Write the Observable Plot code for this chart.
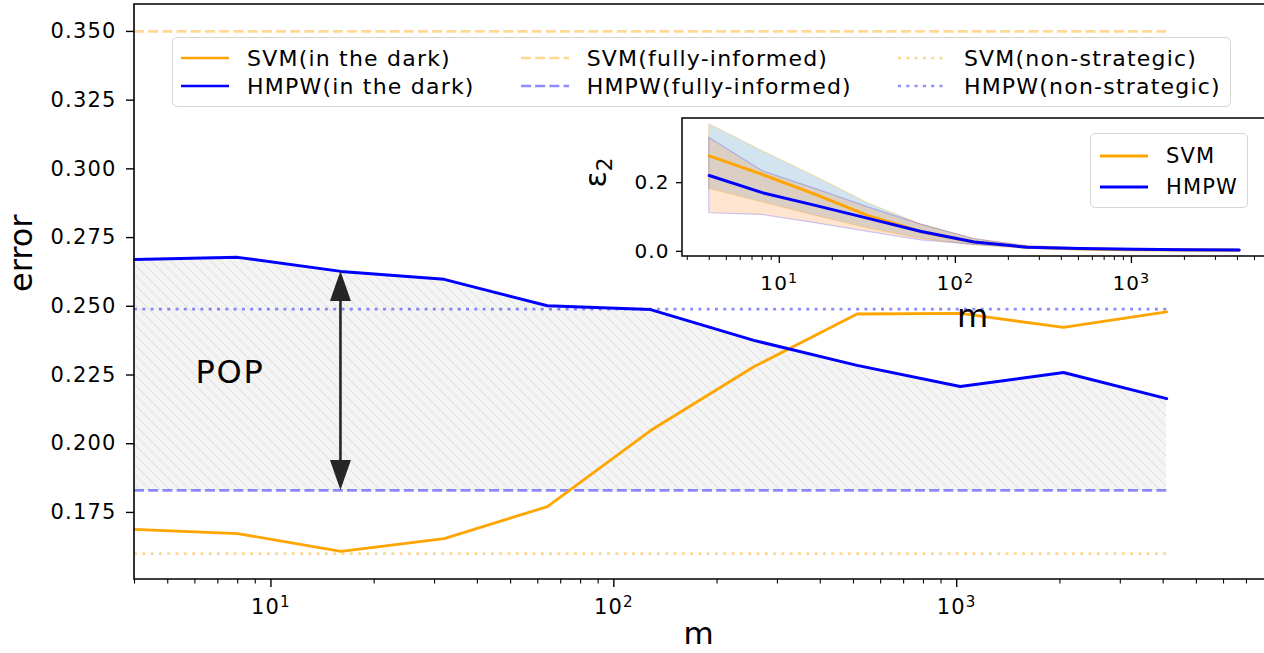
<!DOCTYPE html>
<html>
<head>
<meta charset="utf-8">
<script src="https://cdn.jsdelivr.net/npm/d3@7"></script>
<script src="https://cdn.jsdelivr.net/npm/@observablehq/plot@0.6"></script>
<style>
  html, body { margin: 0; padding: 0; background: #fff; }
  #wrap { position: relative; width: 1264px; height: 653px; overflow: hidden; font-family: "DejaVu Sans", sans-serif; }
  #main, #inset { position: absolute; }
  #main { left: 0; top: 0; }
  #inset { left: 560px; top: 100px; }
  #main svg text, #inset svg text { letter-spacing: 0.055em; }
  .legend { position: absolute; background: rgba(255,255,255,0.85); border: 1.5px solid #d6d6d6; border-radius: 5px;
            font-family: "DejaVu Sans", sans-serif; color: #000; letter-spacing: 0.055em; box-sizing: border-box; }
  .legend .grid { display: grid; }
  .legend .item { display: flex; align-items: center; white-space: nowrap; }
  .legend svg { display: block; flex: none; }
</style>
</head>
<body>
<div id="wrap">
  <div id="main"></div>
  <div id="inset"></div>
  <div id="leg1" class="legend"></div>
  <div id="leg2" class="legend"></div>
</div>
<script>
// ---------------- data ----------------
const m = [4, 8, 16, 32, 64, 128, 256, 512, 1024, 2048, 4096];
const svmDark  = [0.1688, 0.1673, 0.1608, 0.1655, 0.1771, 0.2048, 0.2280, 0.2472, 0.2474, 0.2423, 0.2480];
const hmpwDark = [0.2670, 0.2678, 0.2627, 0.2598, 0.2502, 0.2488, 0.2376, 0.2285, 0.2208, 0.2259, 0.2164];
const svmFullyInformed  = 0.350;
const hmpwFullyInformed = 0.183;
const svmNonStrategic   = 0.160;
const hmpwNonStrategic  = 0.249;
const popM = 16;
const popLabel = { m: 7.6, error: 0.226, text: "POP" };

// inset: epsilon_2 vs m (mean and band)
const svmEps    = [0.278, 0.224, 0.166, 0.104, 0.057, 0.027, 0.012, 0.007, 0.005, 0.004, 0.003];
const svmEpsLo  = [0.182, 0.143, 0.104, 0.067, 0.036, 0.018, 0.007, 0.005, 0.004, 0.003, 0.002];
const svmEpsHi  = [0.370, 0.292, 0.218, 0.140, 0.078, 0.036, 0.015, 0.009, 0.006, 0.005, 0.004];
const hmpwEps   = [0.221, 0.171, 0.134, 0.096, 0.058, 0.027, 0.012, 0.008, 0.006, 0.005, 0.004];
const hmpwEpsLo = [0.111, 0.106, 0.082, 0.057, 0.032, 0.019, 0.009, 0.006, 0.004, 0.003, 0.002];
const hmpwEpsHi = [0.331, 0.234, 0.182, 0.128, 0.078, 0.036, 0.015, 0.009, 0.007, 0.006, 0.005];

// ticks
const mainYTicks  = [0.175, 0.200, 0.225, 0.250, 0.275, 0.300, 0.325, 0.350];
const xMajorTicks = [10, 100, 1000];
const insetYTicks = [0.0, 0.2];

// colours
const ORANGE = "#ffa500", BLUE = "#0000ff";

// ---------------- helpers ----------------
const fmtPow = d => "10^" + Math.round(Math.log10(d));
const minorTicks = (lo, hi) => d3.range(0, 5).flatMap(k => d3.range(2, 10).map(d => d * 10 ** k))
  .filter(v => v >= lo && v <= hi);

const mainRows = m.map((v, i) => ({ m: v, svm: svmDark[i], hmpw: hmpwDark[i] }));
const insetRows = m.map((v, i) => ({
  m: v, svm: svmEps[i], svmLo: svmEpsLo[i], svmHi: svmEpsHi[i],
  hmpw: hmpwEps[i], hmpwLo: hmpwEpsLo[i], hmpwHi: hmpwEpsHi[i]
}));

function hatchDefs() {
  const s = 10;
  const defs = d3.create("svg:defs");
  const p = defs.append("pattern").attr("id", "hatch").attr("patternUnits", "userSpaceOnUse")
    .attr("width", s).attr("height", s);
  p.append("rect").attr("width", s).attr("height", s).attr("fill", "#f4f4f4");
  p.append("path").attr("d", `M-1,-1L${s + 1},${s + 1}M-1,${s - 1}L1,${s + 1}M${s - 1},-1L${s + 1},1`)
    .attr("stroke", "#dddddd").attr("stroke-width", 1);
  return defs.node();
}

function spines(sw) {
  return (index, scales, values, dim) => {
    const l = dim.marginLeft, t = dim.marginTop, r = dim.width - dim.marginRight, b = dim.height - dim.marginBottom;
    const g = d3.create("svg:g").attr("fill", "none").attr("stroke", "#000").attr("stroke-width", sw);
    g.append("path").attr("d", `M${r + 2},${t}H${l}V${b}H${r + 2}`);
    return g.node();
  };
}

function popArrow(index, scales) {
  const i = m.indexOf(popM);
  const x = scales.x(popM), yA = scales.y(hmpwDark[i]), yB = scales.y(hmpwFullyInformed);
  const hw = 10.5, hl = 30;
  const g = d3.create("svg:g");
  g.append("line").attr("x1", x).attr("x2", x).attr("y1", yA + hl - 2).attr("y2", yB - hl + 2)
    .attr("stroke", "#262626").attr("stroke-width", 2.6);
  g.append("path").attr("fill", "#262626").attr("d", `M${x},${yA}L${x - hw},${yA + hl}L${x + hw},${yA + hl}Z`);
  g.append("path").attr("fill", "#262626").attr("d", `M${x},${yB}L${x - hw},${yB - hl}L${x + hw},${yB - hl}Z`);
  return g.node();
}

const LW = 2.7, DASH = "10,4.2", DOT = "3,5.3";
const mFirst = m[0], mLast = m[m.length - 1];

// ---------------- main chart ----------------
const mainPlot = Plot.plot({
  width: 1264, height: 653,
  marginLeft: 134, marginRight: 0, marginTop: 4, marginBottom: 74,
  style: { fontFamily: "DejaVu Sans, sans-serif", fontSize: "21px", color: "#000", background: "transparent", overflow: "visible" },
  x: { type: "log", domain: [4, 7900], axis: null },
  y: { domain: [0.1506, 0.3598], axis: null },
  marks: [
    hatchDefs,
    Plot.areaY(mainRows, { x: "m", y1: hmpwFullyInformed, y2: "hmpw", fill: "url(#hatch)" }),
    Plot.ruleY([svmFullyInformed], { x1: mFirst, x2: mLast, stroke: ORANGE, strokeOpacity: 0.42, strokeWidth: LW, strokeDasharray: DASH }),
    Plot.ruleY([hmpwFullyInformed], { x1: mFirst, x2: mLast, stroke: BLUE, strokeOpacity: 0.45, strokeWidth: LW, strokeDasharray: DASH }),
    Plot.ruleY([svmNonStrategic], { x1: mFirst, x2: mLast, stroke: ORANGE, strokeOpacity: 0.42, strokeWidth: LW, strokeDasharray: DOT }),
    Plot.ruleY([hmpwNonStrategic], { x1: mFirst, x2: mLast, stroke: BLUE, strokeOpacity: 0.45, strokeWidth: LW, strokeDasharray: DOT }),
    Plot.line(mainRows, { x: "m", y: "svm", stroke: ORANGE, strokeWidth: 2.8 }),
    Plot.line(mainRows, { x: "m", y: "hmpw", stroke: BLUE, strokeWidth: 3 }),
    popArrow,
    Plot.text([popLabel], { x: "m", y: "error", text: "text", fontSize: 32, fill: "#000", lineAnchor: "middle" }),
    Plot.axisY({ ticks: mainYTicks, tickFormat: d3.format(".3f"), tickSize: 8, tickPadding: 10, strokeWidth: 1.4, label: null }),
    Plot.axisX({ ticks: xMajorTicks, tickFormat: fmtPow, tickSize: 8, tickPadding: 12, strokeWidth: 1.4, label: null }),
    Plot.axisX({ ticks: minorTicks(4, 7900).filter(v => !xMajorTicks.includes(v)), tickFormat: () => "", tickSize: 4.5, strokeWidth: 1.1, label: null }),
    spines(1.6),
    Plot.text(["error"], { frameAnchor: "left", dx: -112.5, rotate: -90, fontSize: 32, fill: "#000", lineAnchor: "middle" }),
    Plot.text(["m"], { frameAnchor: "bottom", dy: 55, fontSize: 31, fill: "#000", lineAnchor: "middle" })
  ]
});
document.getElementById("main").append(mainPlot);

// ---------------- inset ----------------
const insetPlot = Plot.plot({
  width: 704, height: 240,
  marginLeft: 122, marginRight: 0, marginTop: 18, marginBottom: 84,
  style: { fontFamily: "DejaVu Sans, sans-serif", fontSize: "20px", color: "#000", background: "transparent", overflow: "visible" },
  x: { type: "log", domain: [2.82, 5700], axis: null },
  y: { domain: [-0.015, 0.387], axis: null },
  marks: [
    Plot.frame({ fill: "white", stroke: null }),
    Plot.areaY(insetRows, { x: "m", y1: "svmLo", y2: "svmHi", fill: "#1f77b4", fillOpacity: 0.2, stroke: ORANGE, strokeOpacity: 0.25, strokeWidth: 1.2 }),
    Plot.areaY(insetRows, { x: "m", y1: "hmpwLo", y2: "hmpwHi", fill: "#ff7f0e", fillOpacity: 0.2, stroke: BLUE, strokeOpacity: 0.2, strokeWidth: 1.2 }),
    Plot.line(insetRows, { x: "m", y: "svm", stroke: ORANGE, strokeWidth: 3 }),
    Plot.line(insetRows, { x: "m", y: "hmpw", stroke: BLUE, strokeWidth: 3 }),
    Plot.axisY({ ticks: insetYTicks, tickFormat: d3.format(".1f"), tickSize: 6, tickPadding: 7, strokeWidth: 1.3, label: null }),
    Plot.axisX({ ticks: xMajorTicks, tickFormat: fmtPow, tickSize: 7, tickPadding: 12, strokeWidth: 1.3, label: null }),
    Plot.axisX({ ticks: minorTicks(2.82, 5700).filter(v => !xMajorTicks.includes(v)), tickFormat: () => "", tickSize: 4, strokeWidth: 1, label: null }),
    spines(1.5),
    Plot.text(["ε_2"], { frameAnchor: "left", dx: -86, rotate: -90, fontSize: 30, fill: "#000", lineAnchor: "middle" }),
    Plot.text(["m"], { frameAnchor: "bottom", dy: 60, fontSize: 32, fill: "#000", lineAnchor: "middle" })
  ]
});
document.getElementById("inset").append(insetPlot);

// typography fix-ups: mathtext-like superscripts / subscripts, no letter-spacing on rotated labels
for (const svg of [mainPlot, insetPlot]) {
  d3.select(svg).selectAll("text").each(function () {
    const t = d3.select(this);
    if ((this.getAttribute("transform") || "").includes("rotate")) t.style("letter-spacing", "0");
    const s = this.textContent;
    const sp = s.match(/^(.*)\^(.+)$/), sb = s.match(/^(.*)_(.+)$/);
    if (sp || sb) {
      const [, base, script] = sp || sb;
      t.text(null);
      t.append("tspan").text(base);
      t.append("tspan").attr("dy", sp ? "-0.48em" : "0.28em").attr("font-size", "0.72em").text(script);
    }
  });
}

// ---------------- legends ----------------
function handle(color, opacity, dash, w) {
  return `<svg width="48" height="12"><line x1="0" x2="48" y1="6" y2="6" stroke="${color}" stroke-opacity="${opacity}" stroke-width="${w}" ${dash ? `stroke-dasharray="${dash}"` : ""}/></svg>`;
}
const mainLegend = [
  { label: "SVM(in the dark)",      color: ORANGE, op: 1,    dash: null },
  { label: "SVM(fully-informed)",   color: ORANGE, op: 0.42, dash: DASH },
  { label: "SVM(non-strategic)",    color: ORANGE, op: 0.42, dash: DOT },
  { label: "HMPW(in the dark)",     color: BLUE,   op: 1,    dash: null },
  { label: "HMPW(fully-informed)",  color: BLUE,   op: 0.45, dash: DASH },
  { label: "HMPW(non-strategic)",   color: BLUE,   op: 0.45, dash: DOT }
];
const leg1 = document.getElementById("leg1");
Object.assign(leg1.style, { left: "172px", top: "37px", padding: "6px 9px 6px 8px", fontSize: "22px" });
leg1.innerHTML = `<div class="grid" style="grid-template-columns:repeat(3,auto);column-gap:46px;grid-auto-rows:28px">` +
  mainLegend.map(d => `<div class="item">${handle(d.color, d.op, d.dash, LW)}<span style="margin-left:18px">${d.label}</span></div>`).join("") +
  `</div>`;

const insetLegend = [
  { label: "SVM",  color: ORANGE },
  { label: "HMPW", color: BLUE }
];
const leg2 = document.getElementById("leg2");
Object.assign(leg2.style, { left: "1090px", top: "133px", padding: "6px 9px 5px 9px", fontSize: "21px" });
leg2.innerHTML = `<div class="grid" style="grid-template-columns:auto;grid-auto-rows:31px">` +
  insetLegend.map(d => `<div class="item">${handle(d.color, 1, null, 3)}<span style="margin-left:18px">${d.label}</span></div>`).join("") +
  `</div>`;
</script>
</body>
</html>
